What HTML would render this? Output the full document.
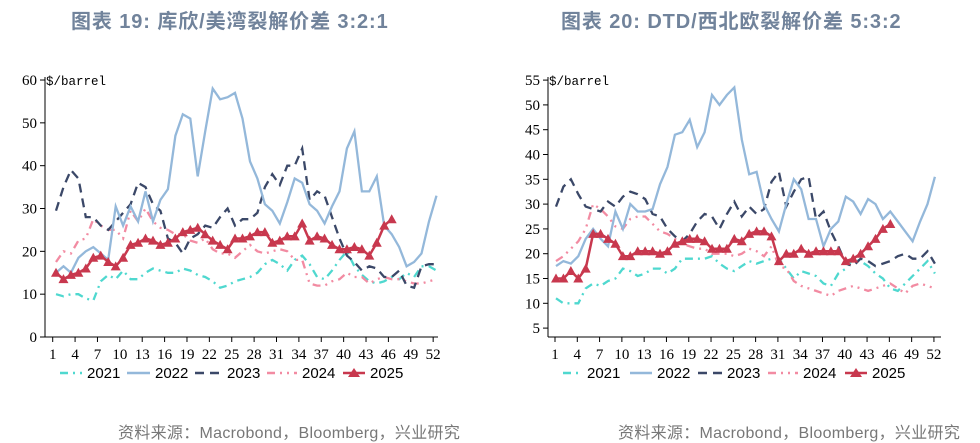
<!DOCTYPE html>
<html><head><meta charset="utf-8"><style>
body{margin:0;background:#fff;width:980px;height:443px;overflow:hidden;position:relative;font-family:"Liberation Sans","Noto Sans CJK SC",sans-serif}
.t{position:absolute;top:5px;font-size:20px;letter-spacing:0.9px;font-weight:bold;color:#71839b;white-space:nowrap}
.s{position:absolute;top:419px;font-size:16px;letter-spacing:0.3px;color:#777;white-space:nowrap}
svg{position:absolute;left:0;top:0}
</style></head><body>
<div class="t" style="left:71px">图表 19: 库欣/美湾裂解价差 3:2:1</div>
<div class="t" style="left:561px">图表 20: DTD/西北欧裂解价差 5:3:2</div>
<div class="s" style="left:118px">资料来源：Macrobond，Bloomberg，兴业研究</div>
<div class="s" style="left:618px">资料来源：Macrobond，Bloomberg，兴业研究</div>
<svg id="g" width="980" height="443" xmlns="http://www.w3.org/2000/svg"></svg>
<script>
const S={c21:"#4fd8cf",c22:"#94b8da",c23:"#3b4868",c24:"#f28ba2",c25:"#c8384e"};
const L={
y21:[10,9.5,10,10,9,8.5,13,14.5,13.5,15.5,13.5,13.5,15,16,15.5,15,15,16,15.5,14.5,14,13,11.5,12,13,13.5,14,15,17,18,17,15.5,18,19,17,14,13.5,15.5,18,20,16.5,14.5,13,12.5,13,14,13.5,15,14,16.5,16.5,15.5],
y22:[15,16.5,15,18.5,20,21,19.5,18,30.5,26,30.5,27,34,27,32,34.5,47,52,51,37.5,48,58,55.5,56,57,51,41,37,31,29.5,26.5,31.5,37,36,31,29.5,26.5,30.5,34,44,48,34,34,37.5,26,24,21,16.5,17.5,19.5,27,33],
y23:[29.5,35,39,37,28,28,26,25,27,29,31,36,35,31,29.5,23,22,19.5,23,24,26,25.5,28,30,26,27.5,27.5,29,35,38,35.5,40,40,44,32,34,33,28,23,19,17.5,15.5,16.5,16,14,14,15.5,12,11.5,16.5,17,17],
y24:[17.5,20,19.5,22.5,23,27.5,26,25,25,23,29.5,27,30,27,25.5,25,24,24,22.5,22,23,20.5,19.5,19.5,18.5,20,21.5,20,19.5,20,20.5,20,18,18,12.5,12,12,13,13.5,15,14,14,12.5,13.5,14,13.5,13.5,13,12.5,12.5,13,13.5],
y25:[15,13.5,14.5,15,16,18.5,19,17.5,16.5,18.5,21.5,22,23,22.5,21.5,22,23,24.5,25,25.5,24,22.5,21.5,20.5,23,23,23.5,24.5,24.5,22,22.5,23.5,23.5,26.5,22.5,23.5,23,21.5,20.5,20.5,21,20.5,19,22,26,27.5]};
const R={
y21:[11,10,10,10,13,14,13.5,14.5,15,17,16.5,15.5,16,17,17,16,17,19,19,19,19,19.5,18,17,16.5,17.5,18.5,18,18.5,19,19,17,15,16.5,16,15.5,14,13.5,16,17,19,18.5,17.5,16,15,13,12.5,14,15.5,17,18.5,16],
y22:[17.5,18.5,18,19.5,23,25,23,21.5,28.5,25,30,28.5,28.5,29,34,37.5,44,44.5,47,41.5,44.5,52,50,52,53.5,43,36,36.5,30,27,24.5,30,35,33,27,27,21.5,25,26.5,31.5,30.5,28,31,30,27,28.5,26.5,24.5,22.5,26.5,30,35.5],
y23:[29.5,33.5,35,32,29.5,29,28.5,30.5,29.5,31.5,32.5,32,31,28,27.5,25,23.5,22.5,24,26.5,28,27.5,25,28,30.5,27.5,29.5,28,29,34.5,36.5,29.5,32.5,35,35.5,27,28.5,24.5,21.5,18,17.5,19,18.5,17.5,18,18.5,19.5,20,19,19,20.5,18],
y24:[18.5,19.5,21,22.5,25,30,29,27.5,25.5,25,27,27.5,27.5,26,24.5,24,23,22,21.5,21,21,20,20,20,19.5,20,21,20.5,19.5,21.5,17.5,17,14.5,13.5,13,12.5,12,11.5,12.5,13,13.5,13,12.5,13,13.5,14,13,12,13.5,14,13.5,13],
y25:[15,15,16.5,15,17,24,24,23,22,19.5,19.5,20.5,20.5,20.5,20,20.5,22,22.5,23,23,22.5,21,21,21,23,22.5,24,24.5,24.5,23.5,18.5,20,20,21,20,20.5,20.5,20.5,20.5,18.5,19,20,21.5,23,25,26]};
let o="";
function chart(D,ax,x1,xr,ystep,y0v,y0p,ticks,legend,ptx){
 const X=i=>x1+i*ystep.dx, Y=v=>y0p-(v-y0v)*ystep.dy;
 o+=`<line x1="${ax}" y1="77" x2="${ax}" y2="337" stroke="#000"/>`;
 o+=`<line x1="${ax}" y1="337" x2="${xr}" y2="337" stroke="#000"/>`;
 ticks.forEach(v=>{const y=Y(v);o+=`<line x1="${ax-5}" y1="${y}" x2="${ax}" y2="${y}" stroke="#000"/><text x="${ax-8}" y="${y+5}" text-anchor="end" font-family="Liberation Serif,serif" font-size="15">${v}</text>`});
 for(let w=1;w<=52;w+=3){const x=ptx(w);o+=`<line x1="${x}" y1="337" x2="${x}" y2="342" stroke="#000"/><text x="${x}" y="359" text-anchor="middle" font-family="Liberation Serif,serif" font-size="15">${w}</text>`}
 o+=`<text x="${ax+1}" y="85" font-family="Liberation Mono,monospace" font-size="12.5">$/barrel</text>`;
 const st={y21:[S.c21,"8 5 2 5"],y22:[S.c22,""],y23:[S.c23,"9 6"],y24:[S.c24,"8 5 2 5 2 5"],y25:[S.c25,""]};
 for(const k of ["y21","y24","y23","y22","y25"]){const p=D[k].map((v,i)=>`${X(i).toFixed(1)},${Y(v).toFixed(1)}`).join(" ");
  o+=`<polyline points="${p}" fill="none" stroke="${st[k][0]}" stroke-width="${k=="y25"?2.5:2.3}" stroke-dasharray="${st[k][1]}"/>`;
  if(k=="y25")D[k].forEach((v,i)=>{const x=X(i),y=Y(v);o+=`<polygon points="${x-5},${y+4} ${x+5},${y+4} ${x},${y-5}" fill="${S.c25}"/>`});}
 const cs=[S.c21,S.c22,S.c23,S.c24,S.c25],da=["8 5 2 5","","9 6","8 5 2 5 2 5",""],nm=["2021","2022","2023","2024","2025"];
 legend.forEach((l,i)=>{o+=`<line x1="${l[0]}" y1="373" x2="${l[1]}" y2="373" stroke="${cs[i]}" stroke-width="2.5" stroke-dasharray="${da[i]}"/>`;
  if(i==4){const m=(l[0]+l[1])/2;o+=`<polygon points="${m-6},377 ${m+6},377 ${m},368" fill="${S.c25}"/>`}
  o+=`<text x="${l[1]+5}" y="378" font-family="Liberation Sans,sans-serif" font-size="15">${nm[i]}</text>`});
}
chart(L,45,56,438,{dx:7.46,dy:4.283},0,337,[0,10,20,30,40,50,60],[[60,82],[127,150],[195,222],[267,297],[343,365]],w=>52.7+(w-1)*7.46);
chart(R,548,556,941,{dx:7.43,dy:4.96},10,303.3,[5,10,15,20,25,30,35,40,45,50,55],[[563,582],[630,652],[698,722],[768,798],[845,867]],w=>555+(w-1)*7.43);
document.getElementById("g").innerHTML=o;
</script>
</body></html>
